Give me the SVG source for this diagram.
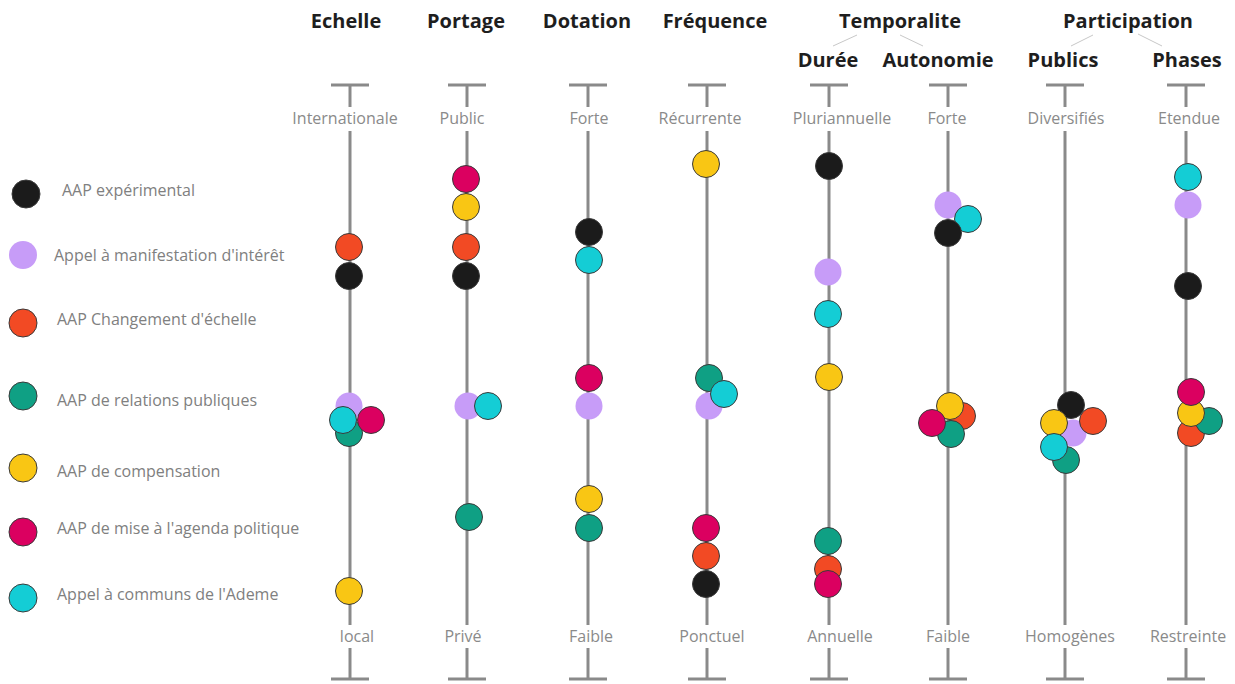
<svg xmlns="http://www.w3.org/2000/svg" width="1235" height="684" viewBox="0 0 1235 684">
  <style>
    .bg { fill: #ffffff; }
    .head { font-family: "Open Sans", "Liberation Sans", sans-serif; font-weight: 700; font-size: 20px; fill: #1e1e1e; text-anchor: middle; }
    .lab { font-family: "Open Sans", "Liberation Sans", sans-serif; font-size: 16px; fill: #8a8a8a; text-anchor: middle; }
    .leg { font-family: "Open Sans", "Liberation Sans", sans-serif; font-size: 16px; fill: #808080; }
    .axis { stroke: #8a8a8a; stroke-width: 3; fill: none; }
    .link { stroke: #c8c8c8; stroke-width: 1; fill: none; }
    .dot { stroke: #3a3a3a; stroke-width: 1; }
    .k { fill: #1b1b1b; }
    .v { fill: #c79cf8; stroke: none; }
    .o { fill: #f24a24; }
    .g { fill: #0fa084; }
    .y { fill: #f9c614; }
    .m { fill: #db0060; }
    .c { fill: #14cdd5; }
  </style>
  <defs>
    <!-- one scale axis: end caps and shaft broken around the two pole labels -->
    <g id="axisShape" class="axis">
      <line x1="-19" y1="85" x2="19" y2="85"/>
      <line x1="0" y1="85" x2="0" y2="107"/>
      <line x1="0" y1="131" x2="0" y2="625"/>
      <line x1="0" y1="648" x2="0" y2="679"/>
      <line x1="-19" y1="679" x2="19" y2="679"/>
    </g>
  </defs>
  <rect class="bg" x="0" y="0" width="1235" height="684"/>

  <!-- column titles -->
  <g id="titles">
    <text class="head" x="346" y="28">Echelle</text>
    <text class="head" x="466" y="28">Portage</text>
    <text class="head" x="587" y="28">Dotation</text>
    <text class="head" x="715" y="28">Fréquence</text>
    <text class="head" x="900" y="28">Temporalite</text>
    <text class="head" x="1128" y="28">Participation</text>
    <text class="head" x="828" y="67">Durée</text>
    <text class="head" x="938" y="67">Autonomie</text>
    <text class="head" x="1063" y="67">Publics</text>
    <text class="head" x="1187" y="67">Phases</text>
  </g>

  <!-- thin links from group titles to sub-titles -->
  <g id="connectors">
    <line class="link" x1="857" y1="35" x2="833" y2="46"/>
    <line class="link" x1="900" y1="35" x2="923" y2="46"/>
    <line class="link" x1="1093" y1="35" x2="1071" y2="46"/>
    <line class="link" x1="1138" y1="34" x2="1162" y2="46"/>
  </g>

  <!-- axes with pole labels -->
  <g id="axis-echelle">
    <use href="#axisShape" x="350"/>
    <text class="lab" x="345" y="124">Internationale</text>
    <text class="lab" x="357" y="642">local</text>
  </g>
  <g id="axis-portage">
    <use href="#axisShape" x="467"/>
    <text class="lab" x="462" y="124">Public</text>
    <text class="lab" x="463" y="642">Privé</text>
  </g>
  <g id="axis-dotation">
    <use href="#axisShape" x="588"/>
    <text class="lab" x="589" y="124">Forte</text>
    <text class="lab" x="591" y="642">Faible</text>
  </g>
  <g id="axis-frequence">
    <use href="#axisShape" x="707"/>
    <text class="lab" x="700" y="124">Récurrente</text>
    <text class="lab" x="712" y="642">Ponctuel</text>
  </g>
  <g id="axis-duree">
    <use href="#axisShape" x="829"/>
    <text class="lab" x="842" y="124">Pluriannuelle</text>
    <text class="lab" x="840" y="642">Annuelle</text>
  </g>
  <g id="axis-autonomie">
    <use href="#axisShape" x="948"/>
    <text class="lab" x="947" y="124">Forte</text>
    <text class="lab" x="948" y="642">Faible</text>
  </g>
  <g id="axis-publics">
    <use href="#axisShape" x="1065"/>
    <text class="lab" x="1066" y="124">Diversifiés</text>
    <text class="lab" x="1070" y="642">Homogènes</text>
  </g>
  <g id="axis-phases">
    <use href="#axisShape" x="1186"/>
    <text class="lab" x="1189" y="124">Etendue</text>
    <text class="lab" x="1188" y="642">Restreinte</text>
  </g>

  <!-- legend -->
  <g id="legend">
    <circle class="dot k" cx="26" cy="194" r="14"/>
    <text class="leg" x="62" y="196">AAP expérimental</text>
    <circle class="dot v" cx="23" cy="255" r="14"/>
    <text class="leg" x="54" y="261">Appel à manifestation d'intérêt</text>
    <circle class="dot o" cx="23" cy="323" r="14"/>
    <text class="leg" x="57" y="325">AAP Changement d'échelle</text>
    <circle class="dot g" cx="23" cy="396" r="14"/>
    <text class="leg" x="57" y="406">AAP de relations publiques</text>
    <circle class="dot y" cx="23" cy="468" r="14"/>
    <text class="leg" x="57" y="477">AAP de compensation</text>
    <circle class="dot m" cx="23" cy="532" r="14"/>
    <text class="leg" x="57" y="534">AAP de mise à l'agenda politique</text>
    <circle class="dot c" cx="23" cy="598" r="14"/>
    <text class="leg" x="57" y="600">Appel à communs de l'Ademe</text>
  </g>

  <!-- markers per axis -->
  <g id="dots-echelle">
    <circle class="dot o" cx="349" cy="247" r="13.5"/>
    <circle class="dot k" cx="349" cy="276" r="13.5"/>
    <circle class="dot v" cx="349" cy="406" r="13.5"/>
    <circle class="dot g" cx="349" cy="433" r="13.5"/>
    <circle class="dot c" cx="343" cy="420" r="13.5"/>
    <circle class="dot m" cx="371" cy="420" r="13.5"/>
    <circle class="dot y" cx="349" cy="591" r="13.5"/>
  </g>
  <g id="dots-portage">
    <circle class="dot m" cx="466" cy="179" r="13.5"/>
    <circle class="dot y" cx="466" cy="207" r="13.5"/>
    <circle class="dot o" cx="466" cy="247" r="13.5"/>
    <circle class="dot k" cx="466" cy="276" r="13.5"/>
    <circle class="dot v" cx="468" cy="406" r="13.5"/>
    <circle class="dot c" cx="488" cy="406" r="13.5"/>
    <circle class="dot g" cx="469" cy="517" r="13.5"/>
  </g>
  <g id="dots-dotation">
    <circle class="dot k" cx="589" cy="232" r="13.5"/>
    <circle class="dot c" cx="589" cy="260" r="13.5"/>
    <circle class="dot m" cx="589" cy="378" r="13.5"/>
    <circle class="dot v" cx="589" cy="406" r="13.5"/>
    <circle class="dot y" cx="589" cy="499" r="13.5"/>
    <circle class="dot g" cx="589" cy="528" r="13.5"/>
  </g>
  <g id="dots-frequence">
    <circle class="dot y" cx="706" cy="164" r="13.5"/>
    <circle class="dot v" cx="709" cy="406" r="13.5"/>
    <circle class="dot g" cx="709" cy="378" r="13.5"/>
    <circle class="dot c" cx="724" cy="394" r="13.5"/>
    <circle class="dot m" cx="706" cy="528" r="13.5"/>
    <circle class="dot o" cx="706" cy="556" r="13.5"/>
    <circle class="dot k" cx="706" cy="584" r="13.5"/>
  </g>
  <g id="dots-duree">
    <circle class="dot k" cx="829" cy="166" r="13.5"/>
    <circle class="dot v" cx="828" cy="272" r="13.5"/>
    <circle class="dot c" cx="828" cy="314" r="13.5"/>
    <circle class="dot y" cx="829" cy="377" r="13.5"/>
    <circle class="dot g" cx="828" cy="541" r="13.5"/>
    <circle class="dot o" cx="828" cy="569" r="13.5"/>
    <circle class="dot m" cx="828" cy="584" r="13.5"/>
  </g>
  <g id="dots-autonomie">
    <circle class="dot v" cx="948" cy="205" r="13.5"/>
    <circle class="dot c" cx="968" cy="219" r="13.5"/>
    <circle class="dot k" cx="948" cy="233" r="13.5"/>
    <circle class="dot o" cx="962" cy="416" r="13.5"/>
    <circle class="dot g" cx="951" cy="434" r="13.5"/>
    <circle class="dot y" cx="950" cy="406" r="13.5"/>
    <circle class="dot m" cx="932" cy="423" r="13.5"/>
  </g>
  <g id="dots-publics">
    <circle class="dot k" cx="1071" cy="405" r="13.5"/>
    <circle class="dot v" cx="1073" cy="433" r="13.5"/>
    <circle class="dot g" cx="1066" cy="460" r="13.5"/>
    <circle class="dot y" cx="1054" cy="423" r="13.5"/>
    <circle class="dot c" cx="1054" cy="447" r="13.5"/>
    <circle class="dot o" cx="1093" cy="421" r="13.5"/>
  </g>
  <g id="dots-phases">
    <circle class="dot c" cx="1188" cy="177" r="13.5"/>
    <circle class="dot v" cx="1188" cy="205" r="13.5"/>
    <circle class="dot k" cx="1188" cy="286" r="13.5"/>
    <circle class="dot o" cx="1191" cy="433" r="13.5"/>
    <circle class="dot g" cx="1209" cy="421" r="13.5"/>
    <circle class="dot y" cx="1191" cy="413" r="13.5"/>
    <circle class="dot m" cx="1191" cy="392" r="13.5"/>
  </g>
</svg>
